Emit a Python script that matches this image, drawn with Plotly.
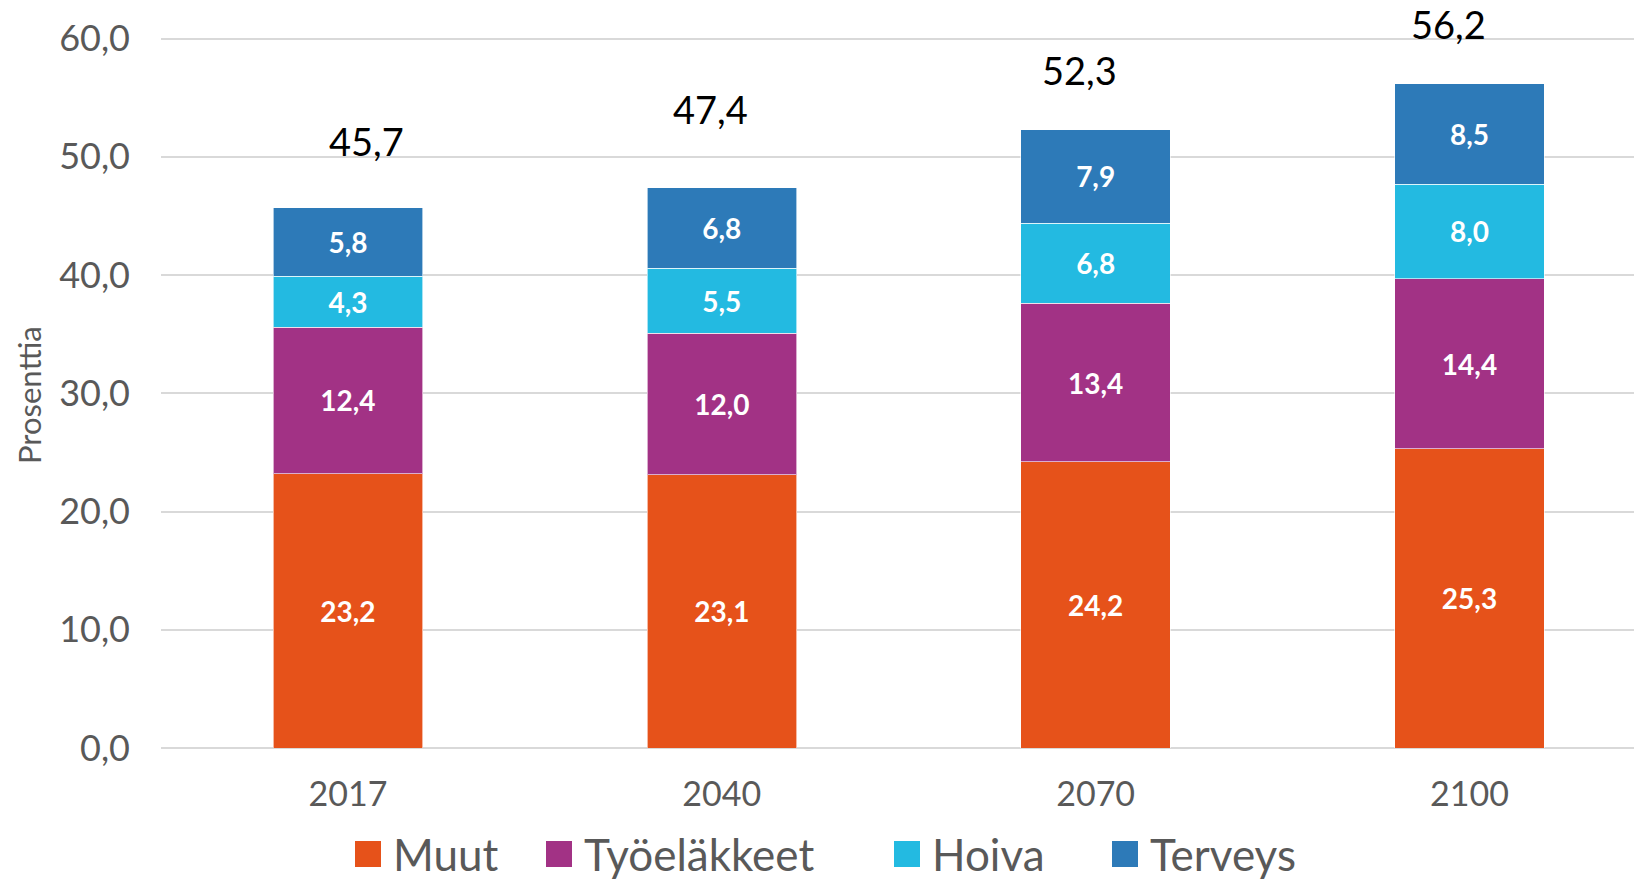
import plotly.graph_objects as go

years = ["2017", "2040", "2070", "2100"]
series_names = ["Muut", "Työeläkkeet", "Hoiva", "Terveys"]
muut = [23.2, 23.1, 24.2, 25.3]
tyoelakkeet = [12.4, 12.0, 13.4, 14.4]
hoiva = [4.3, 5.5, 6.8, 8.0]
terveys = [5.8, 6.8, 7.9, 8.5]

colors = ["#E6521A", "#A23285", "#23BAE1", "#2D7AB8"]
FONT = "Lato"
GRAY = "#595959"

# pixel geometry of the plot area (figure is 1634 x 881)
L, R, T, B = 161, 0, 15, 133
W, H = 1634, 881
PW = W - L - R
PH = H - T - B

fig = go.Figure()

for name, vals, col in zip(series_names, [muut, tyoelakkeet, hoiva, terveys], colors):
    fig.add_trace(
        go.Bar(
            x=years,
            y=vals,
            name=name,
            marker=dict(color=col, line=dict(color="rgba(255,255,255,0.6)", width=1)),
            width=0.4,
            texttemplate="%{y:.1f}",
            textposition="inside",
            insidetextanchor="middle",
            textangle=0,
            textfont=dict(family=FONT, size=28, color="white", weight="bold"),
            showlegend=False,
        )
    )

# total labels above the stacks (hand placed in the original)
totals = [round(a + b + c + d, 1) for a, b, c, d in zip(muut, tyoelakkeet, hoiva, terveys)]
total_xshift = [19, -11, -16, -21]
total_yshift = [67, 79, 60, 60]
for i, (tot, dx, dy) in enumerate(zip(totals, total_xshift, total_yshift)):
    # category axis: annotation x is the category's serial number
    fig.add_annotation(
        x=i,
        y=tot,
        xref="x",
        yref="y",
        text=f"{tot:.1f}".replace(".", ","),
        showarrow=False,
        xshift=dx,
        yshift=dy,
        xanchor="center",
        yanchor="middle",
        font=dict(family=FONT, size=38, color="black"),
    )

# y axis title
fig.add_annotation(
    x=(29 - L) / PW,
    y=(H - B - 395) / PH,
    xref="paper",
    yref="paper",
    xanchor="center",
    yanchor="middle",
    text="Prosenttia",
    textangle=-90,
    showarrow=False,
    font=dict(family=FONT, size=31, color=GRAY),
)

# legend drawn by hand so the colour boxes can be large
legend_px = [355, 546, 894, 1112]
legend_y = 854
box = 26
for name, col, px in zip(series_names, colors, legend_px):
    fig.add_shape(
        type="rect",
        xref="paper",
        yref="paper",
        x0=(px - L) / PW,
        x1=(px + box - L) / PW,
        y0=(H - B - (legend_y + box / 2)) / PH,
        y1=(H - B - (legend_y - box / 2)) / PH,
        fillcolor=col,
        line=dict(width=0),
    )
    fig.add_annotation(
        x=(px + box + 10 - L) / PW,
        y=(H - B - legend_y) / PH,
        xref="paper",
        yref="paper",
        xanchor="left",
        yanchor="middle",
        text=name,
        showarrow=False,
        font=dict(family=FONT, size=44, color=GRAY),
    )

fig.update_layout(
    barmode="stack",
    width=W,
    height=H,
    margin=dict(l=L, r=R, t=T, b=B, autoexpand=False),
    plot_bgcolor="white",
    paper_bgcolor="white",
    separators=", ",
    showlegend=False,
    xaxis=dict(
        type="category",
        range=[-0.5, 3.44],
        tickfont=dict(family=FONT, size=34, color=GRAY),
        ticklabelstandoff=23,
        showgrid=False,
        showline=False,
    ),
    yaxis=dict(
        range=[0, 62],
        dtick=10,
        tick0=0,
        tickformat=".1f",
        tickfont=dict(family=FONT, size=36, color=GRAY),
        ticklabelstandoff=30,
        gridcolor="#D9D9D9",
        gridwidth=2,
        zeroline=True,
        zerolinecolor="#D9D9D9",
        zerolinewidth=2,
        showline=False,
    ),
)

fig.write_html(
    "out.html",
    config={"displayModeBar": False},
    post_script="document.body.style.margin='0';document.body.style.overflow='hidden';",
)
